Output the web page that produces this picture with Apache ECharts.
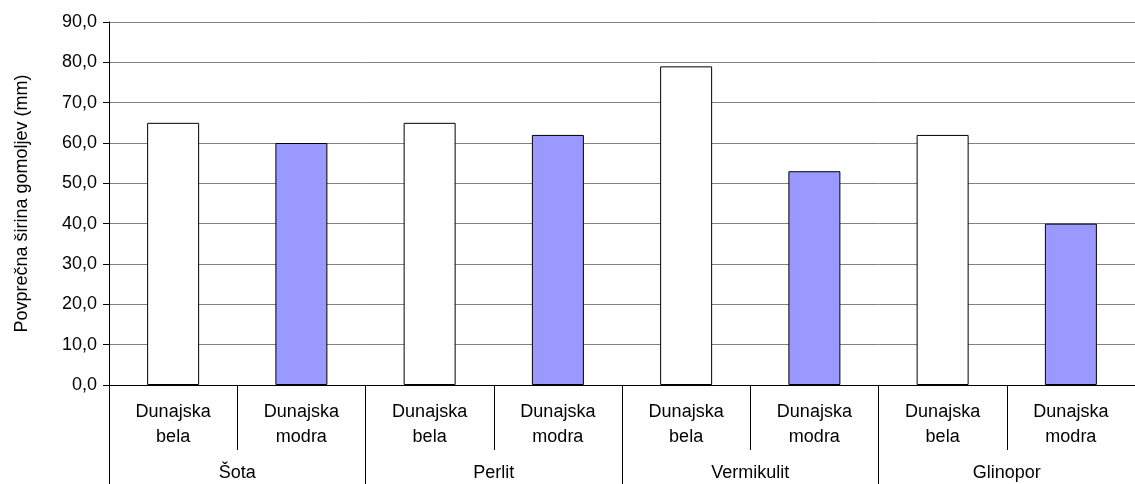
<!DOCTYPE html>
<html>
<head>
<meta charset="utf-8">
<script src="https://cdn.jsdelivr.net/npm/echarts@6/dist/echarts.min.js"></script>
<style>
  html, body { margin: 0; padding: 0; background: #fff; }
  #chart { width: 1135px; height: 484px; }
</style>
</head>
<body>
<div id="chart"></div>
<script>
var substrates = ['Šota', 'Perlit', 'Vermikulit', 'Glinopor'];
var varieties = ['Dunajska\nbela', 'Dunajska\nmodra'];
var bela = [65, 65, 79, 62];
var modra = [60, 62, 53, 40];

var FONT = 'Liberation Sans';

// 8 slots: bela / modra for each substrate
var slots = [];
var belaData = [];
var modraData = [];
substrates.forEach(function (s, i) {
    slots.push(varieties[0], varieties[1]);
    belaData.push(bela[i], null);
    modraData.push(null, modra[i]);
});

var myChart = echarts.init(document.getElementById('chart'));

myChart.setOption({
    animation: false,
    grid: { left: 109, top: 22, bottom: 99, width: 1036 },
    textStyle: { fontFamily: FONT },
    xAxis: [{
        type: 'category',
        data: slots,
        position: 'bottom',
        axisLine: { lineStyle: { color: '#000', width: 1 } },
        axisTick: { show: true, interval: 0, length: 65, lineStyle: { color: '#000' } },
        axisLabel: {
            interval: 0, margin: 15, color: '#000',
            fontFamily: FONT, fontSize: 18, lineHeight: 25
        }
    }, {
        type: 'category',
        data: substrates,
        position: 'bottom',
        offset: 0,
        axisLine: { show: false },
        axisTick: { show: true, interval: 0, length: 100, lineStyle: { color: '#000' } },
        axisLabel: {
            interval: 0, margin: 78, color: '#000',
            fontFamily: FONT, fontSize: 18, lineHeight: 20
        }
    }],
    yAxis: {
        type: 'value',
        min: 0, max: 90, interval: 10,
        name: 'Povprečna širina gomoljev (mm)',
        nameLocation: 'middle',
        nameGap: 78,
        nameTextStyle: { color: '#000', fontFamily: FONT, fontSize: 18 },
        axisLine: { show: true, lineStyle: { color: '#000' } },
        axisTick: { show: true, length: 6, lineStyle: { color: '#000' } },
        axisLabel: {
            margin: 12, color: '#000', fontFamily: FONT, fontSize: 18,
            formatter: function (v) { return v.toFixed(1).replace('.', ','); }
        },
        splitLine: { show: true, lineStyle: { color: '#808080', width: 1 } }
    },
    series: [{
        type: 'bar',
        data: belaData,
        barWidth: 52,
        barGap: '-100%',
        itemStyle: { color: '#ffffff', borderColor: '#000', borderWidth: 1 }
    }, {
        type: 'bar',
        data: modraData,
        barWidth: 52,
        itemStyle: { color: '#9999ff', borderColor: '#000', borderWidth: 1 }
    }]
});
</script>
</body>
</html>
